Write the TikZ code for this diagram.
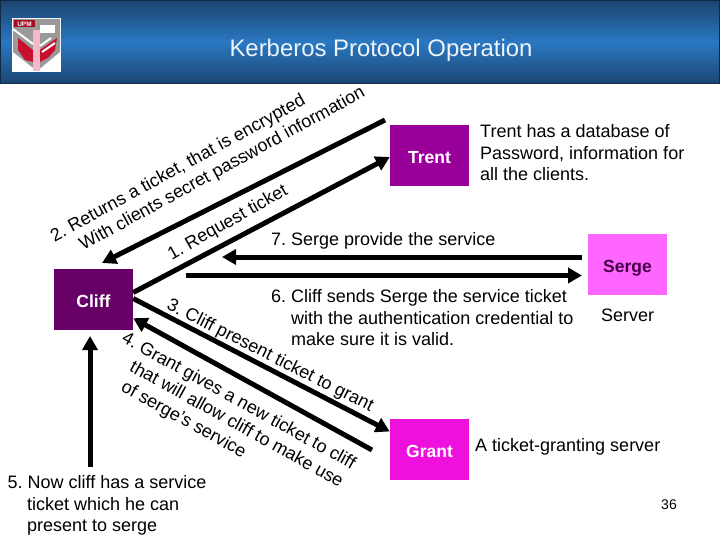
\documentclass[tikz,border=0pt]{standalone}
\usepackage{fontspec}
\setmainfont{Liberation Sans}
\usetikzlibrary{arrows.meta}
\AtBeginDocument{\frenchspacing}
\definecolor{hdark}{HTML}{1B4470}
\definecolor{hmid}{HTML}{2A78C2}
\definecolor{hedge}{HTML}{0E2A45}
\definecolor{ctrent}{HTML}{990099}
\definecolor{ccliff}{HTML}{660066}
\definecolor{cserge}{HTML}{FF66FF}
\definecolor{cgrant}{HTML}{EE11DD}
\definecolor{lred}{HTML}{C8102E}
\definecolor{lgrey}{HTML}{9A9A9A}
\definecolor{lpink}{HTML}{F6B8C8}
\tikzset{
  box/.style={minimum width=79pt,minimum height=61pt,inner sep=0pt,text height=16.5pt,text depth=0pt,font=\fontsize{17.5}{20}\selectfont\bfseries,text=white},
  lbl/.style={font=\fontsize{18}{21.5}\selectfont,align=left,inner sep=0pt,anchor=west,text=black},
  tilt/.style={font=\fontsize{18}{21.5}\selectfont,align=left,inner sep=0pt,text=black},
  flow/.style={line width=5pt,-{Triangle[length=14pt,width=15pt]}},
}
\begin{document}
\begin{tikzpicture}[x=1pt,y=-1pt]
\useasboundingbox (0,0) rectangle (720,540);
\fill[white] (0,0) rectangle (720,540);
% header
\shade[top color=hdark,bottom color=hdark,middle color=hmid,draw=hedge,line width=1pt] (0.5,0.5) rectangle (719.5,84);
\node[font=\fontsize{23.9}{28}\selectfont,text=white!92!hmid,inner sep=0pt] (title) at (381,50) {Kerberos Protocol Operation};
% logo
\fill[white] (12,18) rectangle (61,72);
\fill[lgrey] (13,19) -- (60,19) -- (60,52) -- (37,71) -- (13,52) -- cycle;
\fill[lred] (18,38) -- (33,50) -- (33,62) -- (25,60) -- (18,50) -- cycle;
\fill[lred] (40,50) -- (57,38) -- (55,50) -- (48,58) -- (40,62) -- cycle;
\fill[lpink] (33,30) rectangle (40,71);
\fill[lred!80!black] (14,20) rectangle (35,27.5);
\node[font=\fontsize{6.5}{7}\selectfont\bfseries,text=white,inner sep=0pt] (upm) at (24.5,24) {UPM};
\fill[white] (40,25) rectangle (55,33);
\draw[white,line width=2pt] (13,29) -- (33,44);
\draw[white,line width=2pt] (40,46) -- (51,38);
\draw[white,line width=2pt] (42,52) -- (55,43);
% boxes
\node[box,fill=ctrent] (trent) at (429.5,155.5) {Trent};
\node[box,fill=ccliff] (cliff) at (93.5,299.5) {Cliff};
\node[box,fill=cserge,text=ccliff!70!black] (serge) at (627.5,264.5) {Serge};
\node[box,fill=cgrant] (grant) at (429.5,449.5) {Grant};
% free ends
\coordinate (e2s) at (385,120);
\coordinate (e2t) at (102,263);
\coordinate (e7s) at (582,257);
\coordinate (e7t) at (222,257);
\coordinate (e6s) at (186,275.5);
\coordinate (e6t) at (582,275.5);
\coordinate (e4s) at (372,450);
\coordinate (e5s) at (90,467);
\coordinate (e5t) at (90,336);
% connectors
\draw[flow] (e2s) -- (e2t);
\draw[flow] ([yshift=7pt]cliff.east) -- ([yshift=-1.5pt]trent.west);
\draw[flow] (e7s) -- (e7t);
\draw[flow] (e6s) -- (e6t);
\draw[flow] ([yshift=1pt]cliff.east) -- ([yshift=18pt]grant.west);
\draw[flow] (e4s) -- ([yshift=12pt]cliff.south east);
\draw[flow] (e5s) -- (e5t);
% labels
\node[tilt,rotate=28.7] (l2) at (208,165) {2. Returns a ticket, that is encrypted\\\hspace*{21pt}With clients secret password information};
\node[tilt,rotate=29.5] (l1) at (228,223) {1. Request ticket};
\node[lbl] (l7) at (271,241) {7. Serge provide the service};
\node[lbl] (l6) at (271,318) {6. Cliff sends Serge the service ticket\\\hspace*{20pt}with the authentication credential to\\\hspace*{20pt}make sure it is valid.};
\node[tilt,rotate=-26.8] (l3) at (270,356) {3. Cliff present ticket to grant};
\node[tilt,rotate=-29,anchor=north west] (l4) at (127,330) {4. Grant gives a new ticket to cliff\\\hspace*{21pt}that will allow cliff to make use\\\hspace*{23pt}of serge's service};
\node[lbl] (l5) at (7.5,505.5) {5. Now cliff has a service\\\hspace*{19.5pt}ticket which he can\\\hspace*{19.5pt}present to serge};
\node[lbl] (lt) at (480,153) {Trent has a database of\\Password, information for\\all the clients.};
\node[lbl] (ls) at (601,315) {Server};
\node[lbl] (lg) at (475,447) {A ticket-granting server};
\node[font=\fontsize{14}{16}\selectfont,inner sep=0pt] (pg) at (669,505) {36};
\end{tikzpicture}
\end{document}
